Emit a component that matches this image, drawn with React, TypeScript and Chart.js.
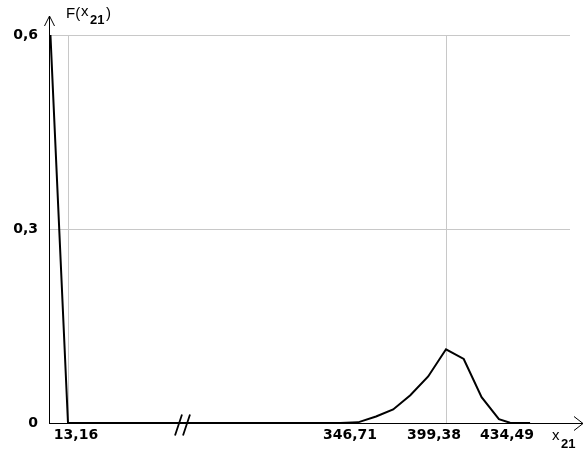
import React, { useEffect, useRef } from 'react';
import { Chart, registerables, LinearScale } from 'chart.js';

// ---- data ----
const X_VALUES = [1, 13.16, 341.5, 351.1, 361.0, 370.4, 379.8, 389.6, 399.38, 409.1, 418.9, 428.4, 434.49, 445.5];
const F_VALUES = [0.6, 0, 0, 0.001, 0.01, 0.021, 0.043, 0.072, 0.114, 0.099, 0.04, 0.006, 0.0005, 0];
const X_TICKS = [13.16, 346.71, 399.38, 434.49];
const X_GRID_TICKS = [13.16, 399.38];
const Y_TICKS = [0, 0.3, 0.6];
const X_MIN = 0;
const X_MAX = 467.4;
const BREAK_LOW = 92.8;
const BREAK_HIGH = 255.1;

// ---- layout / style ----
const BREAK_AT = 0.2572; // fraction of axis where the break sits
const X_LABEL_SHIFT = [8, 0, -12, -3];
const GRID = '#c8c8c8';
const TICK_FONT = 'bold 14px "DejaVu Sans"';

class BrokenLinearScale extends LinearScale {
  static id = 'brokenLinear';
  static defaults = (LinearScale as any).defaults;
  getPixelForValue(value: any) {
    if (value === null || value === undefined || isNaN(value)) return NaN;
    const min = (this as any).min;
    const max = (this as any).max;
    let d: number;
    if (value <= BREAK_LOW) d = ((value - min) / (BREAK_LOW - min)) * BREAK_AT;
    else if (value >= BREAK_HIGH) d = BREAK_AT + ((value - BREAK_HIGH) / (max - BREAK_HIGH)) * (1 - BREAK_AT);
    else d = BREAK_AT;
    return (this as any).getPixelForDecimal(d);
  }
  getValueForPixel(pixel: number) {
    const d = (this as any).getDecimalForPixel(pixel);
    const min = (this as any).min;
    const max = (this as any).max;
    if (d <= BREAK_AT) return min + (d / BREAK_AT) * (BREAK_LOW - min);
    return BREAK_HIGH + ((d - BREAK_AT) / (1 - BREAK_AT)) * (max - BREAK_HIGH);
  }
}

Chart.register(...registerables, BrokenLinearScale as any);

const fmt = (v: number) => (v === 0 ? '0' : String(v).replace('.', ','));

const decorations = {
  id: 'decorations',
  afterDraw(chart: any) {
    const ctx = chart.ctx as CanvasRenderingContext2D;
    const xs = chart.scales.x;
    const a = chart.chartArea;
    const ax = Math.round(a.left) + 0.5;
    const ay = Math.round(a.bottom) + 0.5;
    ctx.save();
    ctx.strokeStyle = '#000';
    ctx.lineWidth = 1;
    // y axis arrow
    ctx.beginPath();
    ctx.moveTo(ax, a.top);
    ctx.lineTo(ax, 16);
    ctx.moveTo(ax - 5, 26);
    ctx.lineTo(ax, 16);
    ctx.lineTo(ax + 5, 26);
    ctx.stroke();
    // x axis arrow
    ctx.beginPath();
    ctx.moveTo(a.right, ay);
    ctx.lineTo(583, ay);
    ctx.moveTo(574, ay - 7);
    ctx.lineTo(583, ay);
    ctx.lineTo(574, ay + 7);
    ctx.stroke();
    // axis break
    const bx = xs.getPixelForValue(BREAK_LOW);
    ctx.lineWidth = 1.8;
    ctx.beginPath();
    ctx.moveTo(bx - 8, ay + 12);
    ctx.lineTo(bx - 1, ay - 9);
    ctx.moveTo(bx, ay + 12);
    ctx.lineTo(bx + 7, ay - 9);
    ctx.stroke();
    // x tick labels
    ctx.fillStyle = '#000';
    ctx.font = TICK_FONT;
    ctx.textAlign = 'center';
    ctx.textBaseline = 'middle';
    X_TICKS.forEach((v, i) => {
      ctx.fillText(fmt(v), xs.getPixelForValue(v) + X_LABEL_SHIFT[i], ay + 12);
    });
    // axis titles
    ctx.textAlign = 'left';
    ctx.textBaseline = 'alphabetic';
    ctx.font = '15px "Liberation Sans"';
    ctx.fillText('F(', 66, 18);
    ctx.fillText('x', 81, 16);
    ctx.font = 'bold 13px "Liberation Sans"';
    ctx.fillText('21', 90, 24);
    ctx.font = '15px "Liberation Sans"';
    ctx.fillText(')', 106, 18);
    ctx.fillText('x', 552, 440);
    ctx.font = 'bold 13px "Liberation Sans"';
    ctx.fillText('21', 561, 448);
    ctx.restore();
  },
};

export default function App() {
  const ref = useRef<HTMLCanvasElement>(null);
  useEffect(() => {
    if (!ref.current) return;
    const chart = new Chart(ref.current, {
      type: 'line',
      data: {
        datasets: [
          {
            data: X_VALUES.map((x, i) => ({ x, y: F_VALUES[i] })),
            borderColor: '#000',
            borderWidth: 2,
            pointRadius: 0,
            tension: 0,
            fill: false,
            clip: 6,
          } as any,
        ],
      },
      options: {
        animation: false,
        responsive: false,
        devicePixelRatio: 1,
        layout: { padding: { top: 35, right: 15, left: 0, bottom: 0 } },
        plugins: { legend: { display: false }, tooltip: { enabled: false } },
        scales: {
          x: {
            type: 'brokenLinear' as any,
            min: X_MIN,
            max: X_MAX,
            afterBuildTicks: (s: any) => {
              s.ticks = X_TICKS.map((v) => ({ value: v }));
            },
            afterFit: (s: any) => {
              s.height = 44;
            },
            ticks: { display: false, autoSkip: false },
            grid: {
              drawTicks: false,
              color: (c: any) => (X_GRID_TICKS.includes(c.tick?.value) ? GRID : 'rgba(0,0,0,0)'),
            },
            border: { color: '#000', width: 1 },
          } as any,
          y: {
            type: 'linear',
            min: 0,
            max: 0.6,
            afterBuildTicks: (s: any) => {
              s.ticks = Y_TICKS.map((v) => ({ value: v }));
            },
            afterFit: (s: any) => {
              s.width = 49;
            },
            ticks: {
              autoSkip: false,
              padding: 11,
              color: '#000',
              font: { family: 'DejaVu Sans', size: 14, weight: 'bold' },
              callback: (v: any) => fmt(Number(v)),
            },
            grid: {
              drawTicks: false,
              color: (c: any) => (c.tick && c.tick.value === 0 ? 'rgba(0,0,0,0)' : GRID),
            },
            border: { color: '#000', width: 1 },
          },
        },
      },
      plugins: [decorations],
    });
    return () => chart.destroy();
  }, []);
  return (
    <div style={{ position: 'absolute', left: 0, top: 0, width: 585, height: 467, background: '#fff' }}>
      <canvas ref={ref} width={585} height={467} style={{ display: 'block' }} />
    </div>
  );
}
